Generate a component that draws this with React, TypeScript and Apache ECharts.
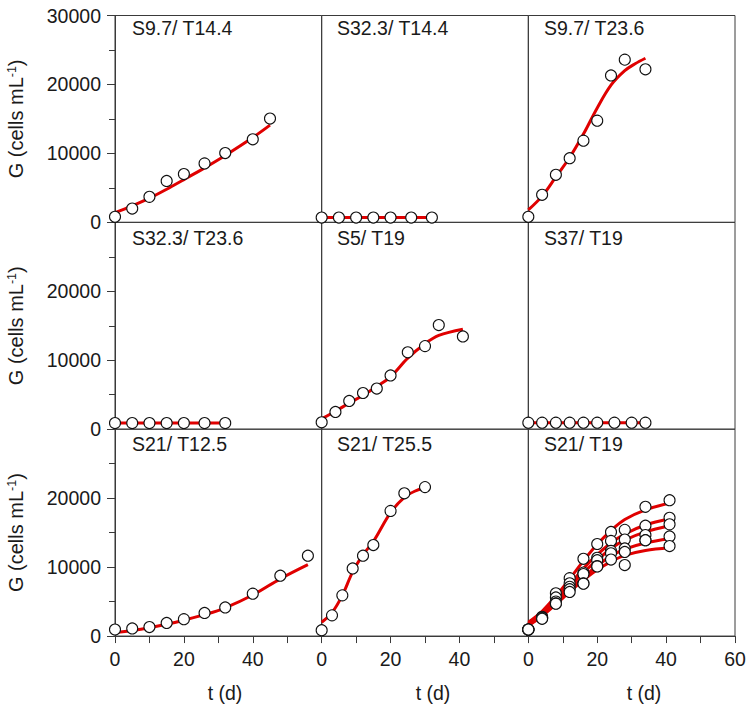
import React, { useEffect, useRef } from "react";
import * as echarts from "echarts";

// ---------- data ----------
const panelTitles = [
  "S9.7/ T14.4", "S32.3/ T14.4", "S9.7/ T23.6",
  "S32.3/ T23.6", "S5/ T19", "S37/ T19",
  "S21/ T12.5", "S21/ T25.5", "S21/ T19",
];

// Panel 1: S9.7 / T14.4
const obsT1 = [0, 5, 10, 15, 20, 26, 32, 40, 45];
const obsG1 = [800, 2000, 3700, 6000, 7000, 8550, 10050, 12050, 15050];
const fitT1 = [0, 5, 10, 15, 20, 26, 32, 40, 45];
const fitG1 = [1400, 2400, 3500, 4800, 6200, 7900, 9700, 12300, 14100];

// Panel 2: S32.3 / T14.4
const obsT2 = [0, 5, 10, 15, 20, 26, 32];
const obsG2 = [700, 700, 700, 700, 700, 700, 700];
const fitT2 = [0, 5, 10, 15, 20, 26, 32];
const fitG2 = [700, 700, 700, 700, 700, 700, 700];

// Panel 3: S9.7 / T23.6
const obsT3 = [0, 4, 8, 12, 16, 20, 24, 28, 34];
const obsG3 = [800, 4000, 6900, 9300, 11850, 14750, 21300, 23600, 22200];
const fitT3 = [0, 4, 8, 12, 16, 20, 24, 28, 31, 34];
const fitG3 = [1800, 3800, 6600, 9400, 12800, 16600, 19900, 22000, 23000, 23800];

// Panel 4: S32.3 / T23.6
const obsT4 = [0, 5, 10, 15, 20, 26, 32];
const obsG4 = [900, 900, 900, 900, 900, 900, 900];
const fitT4 = [0, 5, 10, 15, 20, 26, 32];
const fitG4 = [900, 900, 900, 900, 900, 900, 900];

// Panel 5: S5 / T19
const obsT5 = [0, 4, 8, 12, 16, 20, 25, 30, 34, 41];
const obsG5 = [1000, 2500, 4100, 5250, 5900, 7800, 11150, 12050, 15100, 13450];
const fitT5 = [0, 4, 8, 12, 16, 20, 25, 30, 34, 41];
const fitG5 = [1500, 2600, 3800, 4900, 6200, 7600, 10300, 12400, 13600, 14500];

// Panel 6: S37 / T19
const obsT6 = [0, 4, 8, 12, 16, 20, 25, 30, 34];
const obsG6 = [950, 950, 950, 950, 950, 950, 950, 950, 950];
const fitT6 = [0, 4, 8, 12, 16, 20, 25, 30, 34];
const fitG6 = [950, 950, 950, 950, 950, 950, 950, 950, 950];

// Panel 7: S21 / T12.5
const obsT7 = [0, 5, 10, 15, 20, 26, 32, 40, 48, 56];
const obsG7 = [950, 1100, 1300, 1900, 2450, 3350, 4150, 6150, 8750, 11650];
const fitT7 = [0, 5, 10, 15, 20, 26, 32, 40, 48, 56];
const fitG7 = [500, 800, 1200, 1700, 2300, 3100, 4100, 5950, 8300, 10350];

// Panel 8: S21 / T25.5
const obsT8 = [0, 3, 6, 9, 12, 15, 20, 24, 30];
const obsG8 = [850, 3000, 5900, 9800, 11650, 13200, 18150, 20700, 21600];
const fitT8 = [0, 3, 6, 9, 12, 15, 20, 24, 27, 30];
const fitG8 = [2000, 3400, 5900, 9300, 11800, 13700, 17900, 20100, 21000, 21500];

// Panel 9: S21 / T19 (five replicates)
const obsT9 = [0, 4, 8, 12, 16, 20, 24, 28, 34, 41];
const obsG9a = [950, 2800, 6200, 8400, 11200, 13350, 15100, 15400, 18750, 19700];
const obsG9b = [950, 2700, 5600, 7650, 9200, 11350, 13800, 14000, 16000, 17150];
const obsG9c = [950, 2600, 5000, 7150, 9000, 11000, 12350, 12700, 14650, 16200];
const obsG9d = [950, 2600, 4750, 6800, 7650, 10150, 12000, 12200, 13900, 14450];
const obsG9e = [950, 2500, 4700, 6400, 7600, 10100, 11100, 10300, 13900, 13050];
const fitT9 = [0, 4, 8, 12, 16, 20, 24, 28, 34, 41];
const fitG9a = [2000, 3600, 5800, 8300, 10900, 13300, 15300, 16900, 18300, 19300];
const fitG9b = [1800, 3300, 5300, 7500, 9800, 11800, 13500, 14800, 16100, 17000];
const fitG9c = [1700, 3100, 5000, 7100, 9200, 11000, 12700, 13900, 15100, 16000];
const fitG9d = [1600, 3000, 4800, 6700, 8500, 10200, 11600, 12600, 13500, 14100];
const fitG9e = [1500, 2900, 4600, 6400, 8100, 9600, 10800, 11700, 12400, 12800];

const xTicks = [0, 20, 40, 60];
const yTicks = [0, 10000, 20000, 30000];

const panelObs: { t: number[]; g: number[][] }[] = [
  { t: obsT1, g: [obsG1] },
  { t: obsT2, g: [obsG2] },
  { t: obsT3, g: [obsG3] },
  { t: obsT4, g: [obsG4] },
  { t: obsT5, g: [obsG5] },
  { t: obsT6, g: [obsG6] },
  { t: obsT7, g: [obsG7] },
  { t: obsT8, g: [obsG8] },
  { t: obsT9, g: [obsG9a, obsG9b, obsG9c, obsG9d, obsG9e] },
];
const panelFit: { t: number[]; g: number[][] }[] = [
  { t: fitT1, g: [fitG1] },
  { t: fitT2, g: [fitG2] },
  { t: fitT3, g: [fitG3] },
  { t: fitT4, g: [fitG4] },
  { t: fitT5, g: [fitG5] },
  { t: fitT6, g: [fitG6] },
  { t: fitT7, g: [fitG7] },
  { t: fitT8, g: [fitG8] },
  { t: fitT9, g: [fitG9a, fitG9b, fitG9c, fitG9d, fitG9e] },
];

// ---------- layout ----------
const FONT = "'Liberation Sans', Arial, sans-serif";
const TXT = "#1a1a1a";
const AX = "#3a3a3a";
const FS = 19.5;
const colLeft = [115, 321.67, 528.33];
const colW = 206.67;
const rowTop = [15.5, 222.35, 429.2];
const rowH = 206.85;
const titleX = [132, 337, 544];
const titleY = [28, 237.5, 444];
const xNameX = [225, 433, 644];

function buildOption() {
  const grid: any[] = [];
  const xAxis: any[] = [];
  const yAxis: any[] = [];
  const series: any[] = [];
  const graphic: any[] = [];

  for (let i = 0; i < 9; i++) {
    const r = Math.floor(i / 3);
    const c = i % 3;
    grid.push({
      left: colLeft[c],
      top: rowTop[r],
      width: colW,
      height: rowH,
      show: true,
      borderColor: AX,
      borderWidth: 1,
      backgroundColor: "transparent",
    });
    const bottomRow = r === 2;
    const leftCol = c === 0;
    xAxis.push({
      gridIndex: i,
      type: "value",
      min: xTicks[0],
      max: xTicks[xTicks.length - 1],
      interval: xTicks[1] - xTicks[0],
      axisLine: { show: bottomRow, onZero: false, lineStyle: { color: AX, width: 1 } },
      axisTick: { show: bottomRow, length: 7, lineStyle: { color: AX, width: 1 } },
      minorTick: { show: bottomRow, splitNumber: 2, length: 7, lineStyle: { color: AX, width: 1 } },
      axisLabel: {
        show: bottomRow,
        margin: 13,
        fontSize: FS,
        color: TXT,
        fontFamily: FONT,
        formatter: (v: number) => (v === 60 && c < 2 ? "" : String(v)),
      },
      splitLine: { show: false },
      minorSplitLine: { show: false },
    });
    yAxis.push({
      gridIndex: i,
      type: "value",
      min: yTicks[0],
      max: yTicks[yTicks.length - 1],
      interval: yTicks[1] - yTicks[0],
      axisLine: { show: leftCol, onZero: false, lineStyle: { color: AX, width: 1 } },
      axisTick: { show: leftCol, length: 8, lineStyle: { color: AX, width: 1 } },
      minorTick: { show: leftCol, splitNumber: 2, length: 6, lineStyle: { color: AX, width: 1 } },
      axisLabel: {
        show: leftCol,
        margin: 14,
        fontSize: FS,
        color: TXT,
        fontFamily: FONT,
        formatter: (v: number) => (v === 30000 && r > 0 ? "" : String(v)),
      },
      splitLine: { show: false },
      minorSplitLine: { show: false },
      name: leftCol ? "{a|G (cells mL}{b|-1}{a|)}" : "",
      nameLocation: "middle",
      nameGap: 88,
      nameTextStyle: {
        rich: {
          a: { fontSize: 20, fontFamily: FONT, color: TXT, lineHeight: 22 },
          b: { fontSize: 12.5, fontFamily: FONT, color: TXT, lineHeight: 12, verticalAlign: "top" },
        },
      },
    });

    const fit = panelFit[i];
    fit.g.forEach((arr) => {
      series.push({
        type: "line",
        xAxisIndex: i,
        yAxisIndex: i,
        data: fit.t.map((t, k) => [t, arr[k]]),
        smooth: 0.35,
        showSymbol: false,
        lineStyle: { color: "#e00000", width: 3 },
        z: 2,
        silent: true,
      });
    });
    const obs = panelObs[i];
    obs.g.forEach((arr) => {
      series.push({
        type: "scatter",
        xAxisIndex: i,
        yAxisIndex: i,
        data: obs.t.map((t, k) => [t, arr[k]]),
        symbol: "circle",
        symbolSize: 11,
        clip: false,
        itemStyle: { color: "#ffffff", borderColor: "#111111", borderWidth: 1.1, opacity: 1 },
        z: 3,
        silent: true,
      });
    });

    graphic.push({
      type: "text",
      x: titleX[c],
      y: titleY[r],
      style: {
        text: panelTitles[i],
        fontSize: FS,
        fontFamily: FONT,
        fill: TXT,
        verticalAlign: "middle",
      },
    });
    if (bottomRow) {
      graphic.push({
        type: "text",
        x: xNameX[c],
        y: 693,
        style: {
          text: "t (d)",
          fontSize: FS,
          fontFamily: FONT,
          fill: TXT,
          align: "center",
          verticalAlign: "middle",
        },
      });
    }
  }

  return {
    animation: false,
    backgroundColor: "#ffffff",
    grid,
    xAxis,
    yAxis,
    series,
    graphic,
  };
}

export default function App() {
  const ref = useRef<HTMLDivElement>(null);
  useEffect(() => {
    if (!ref.current) return;
    const chart = echarts.init(ref.current, null, { renderer: "svg" });
    chart.setOption(buildOption() as any);
    return () => chart.dispose();
  }, []);
  return (
    <div
      ref={ref}
      style={{ position: "absolute", left: 0, top: 0, width: 750, height: 710, background: "#fff" }}
    />
  );
}
